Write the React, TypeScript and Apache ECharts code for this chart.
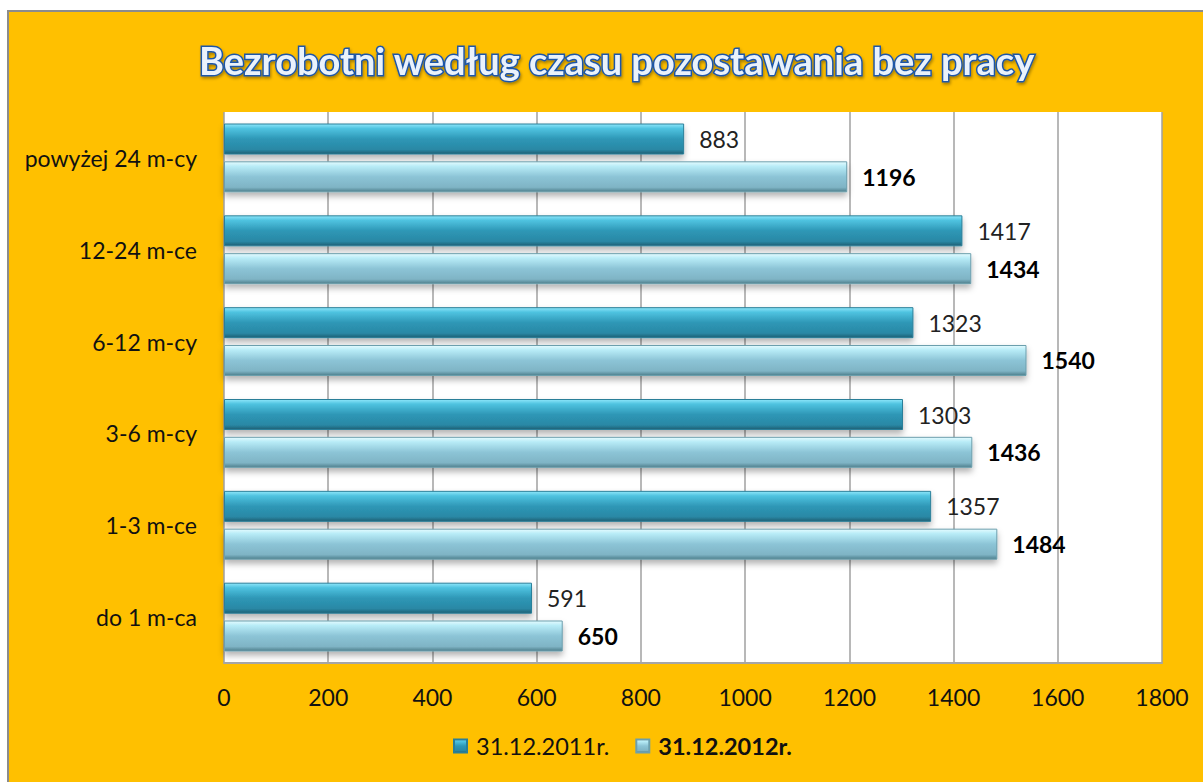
import React, { useEffect, useRef } from "react";
import * as echarts from "echarts";

const categories = ["do 1 m-ca", "1-3 m-ce", "3-6 m-cy", "6-12 m-cy", "12-24 m-ce", "powyżej 24 m-cy"];
const values2011 = [591, 1357, 1303, 1323, 1417, 883];
const values2012 = [650, 1484, 1436, 1540, 1434, 1196];
const seriesNames = ["31.12.2011r.", "31.12.2012r."];
const titleText = "Bezrobotni według czasu pozostawania bez pracy";

const FONT = "Lato, 'Open Sans', sans-serif";

const darkGrad = new echarts.graphic.LinearGradient(0, 0, 0, 1, [
  { offset: 0, color: "#8EE6FA" },
  { offset: 0.15, color: "#4FC3E0" },
  { offset: 0.5, color: "#2E97B6" },
  { offset: 0.85, color: "#2A88A5" },
  { offset: 1, color: "#1E5F73" },
]);
const lightGrad = new echarts.graphic.LinearGradient(0, 0, 0, 1, [
  { offset: 0, color: "#E4FBFF" },
  { offset: 0.15, color: "#B8ECF7" },
  { offset: 0.5, color: "#8CC4D6" },
  { offset: 0.85, color: "#7FB4C5" },
  { offset: 1, color: "#4E7F8C" },
]);

export default function App() {
  const ref = useRef<HTMLDivElement>(null);
  useEffect(() => {
    if (!ref.current) return;
    const chart = echarts.init(ref.current, null, { renderer: "svg" });
    chart.setOption({
      animation: false,
      backgroundColor: "#ffffff",
      graphic: [
        {
          type: "rect",
          z: -10,
          silent: true,
          shape: { x: 8, y: 11, width: 1300, height: 900 },
          style: { fill: "#FFC000", stroke: "#8C8C8C", lineWidth: 2 },
        },
      ],
      title: {
        text: titleText,
        left: 194,
        top: 36,
        textStyle: {
          fontFamily: FONT,
          fontSize: 38,
          fontWeight: "bold",
          color: "#EAF2FB",
          textBorderColor: "#1F56A8",
          textBorderWidth: 3,
          textShadowColor: "rgba(0,0,0,0.35)",
          textShadowBlur: 3,
          textShadowOffsetX: 1,
          textShadowOffsetY: 2,
        },
      },
      legend: {
        bottom: 19,
        left: 448,
        itemWidth: 13,
        itemHeight: 13,
        itemGap: 26,
        icon: "rect",
        textStyle: { fontFamily: FONT, fontSize: 23.5, color: "#111", padding: [0, 0, 0, 4] },
        data: [
          { name: seriesNames[0], textStyle: { fontWeight: "normal" } },
          { name: seriesNames[1], textStyle: { fontWeight: "bold" } },
        ],
      },
      grid: {
        left: 224,
        right: 41,
        top: 112,
        bottom: 119,
        containLabel: false,
        show: true,
        backgroundColor: "#FFFFFF",
        borderWidth: 0,
      },
      xAxis: {
        type: "value",
        min: 0,
        max: 1800,
        interval: 200,
        axisLine: { show: true, lineStyle: { color: "#A6A6A6", width: 2 } },
        axisTick: { show: false },
        splitLine: { show: true, lineStyle: { color: "#A0A0A0", width: 1.5 } },
        axisLabel: {
          fontFamily: FONT,
          fontSize: 23,
          color: "#111",
          margin: 22,
          formatter: (v: number) => String(v),
        },
      },
      yAxis: {
        type: "category",
        data: categories,
        axisLine: { show: false },
        axisTick: { show: false },
        axisLabel: { fontFamily: FONT, fontSize: 23, color: "#111", margin: 27 },
      },
      series: [
        {
          name: seriesNames[0],
          type: "bar",
          data: values2011,
          barWidth: 31,
          barGap: "22%",
          itemStyle: {
            color: darkGrad,
            borderColor: "#2A7F99",
            borderWidth: 1,
            shadowColor: "rgba(0,0,0,0.3)",
            shadowBlur: 6,
            shadowOffsetY: 4,
          },
          label: {
            show: true,
            position: "right",
            distance: 15,
            fontFamily: FONT,
            fontSize: 23,
            color: "#222",
          },
        },
        {
          name: seriesNames[1],
          type: "bar",
          data: values2012,
          barWidth: 31,
          barGap: "22%",
          itemStyle: {
            color: lightGrad,
            borderColor: "#6C9FAD",
            borderWidth: 1,
            shadowColor: "rgba(0,0,0,0.3)",
            shadowBlur: 6,
            shadowOffsetY: 4,
          },
          label: {
            show: true,
            position: "right",
            distance: 15,
            fontFamily: FONT,
            fontSize: 23,
            fontWeight: "bold",
            color: "#000",
          },
        },
      ],
    });
    return () => chart.dispose();
  }, []);
  return (
    <div
      ref={ref}
      style={{ position: "absolute", left: 0, top: 0, width: 1203, height: 782 }}
    />
  );
}
